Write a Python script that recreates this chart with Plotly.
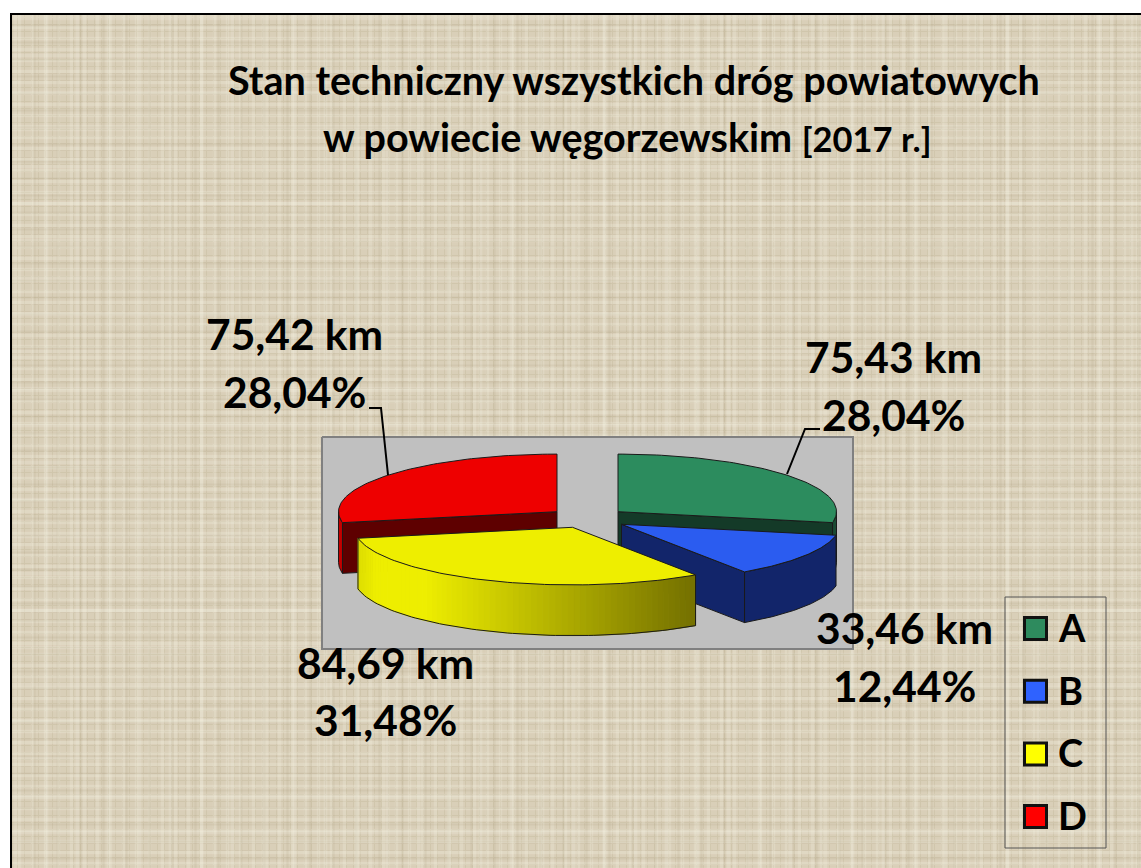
import numpy as np
import plotly.graph_objects as go

# ---- data ----
categories = ["A", "B", "C", "D"]
km_values = [75.43, 33.46, 84.69, 75.42]
pct_values = [28.04, 12.44, 31.48, 28.04]
legend_colors = ["#2e8b5e", "#2f62ff", "#ffff00", "#ff0000"]

# ---- styling ----
top_colors = ["#2c8c5e", "#2b5cf0", "#eeee00", "#ee0000"]
cut_colors = ["#143a28", "#12256a", "#7a7600", "#5e0000"]
rim_colors = ["#1a4a33", "#12256a", None, "#c40000"]
apex_x = [618, 621.5, 572.5, 557]
apex_y = [511.7, 524.3, 527.3, 511.7]
RX, RY, DEPTH = 218.5, 57.6, 50.7
EDGE = "#1a1a1a"
FONT = "Lato"

W, H = 1141, 868
fig = go.Figure()

# burlap-like page background: overlaid weave patterns of different pitch
bx, bw, bh = (12 + W) / 2, W - 12, H - 15
fig.add_bar(x=[bx], y=[bh], base=[15], width=[bw], hoverinfo="skip",
            marker=dict(color="#d9cfb8", line_width=0,
                        pattern=dict(shape="+", bgcolor="#d9cfb8", fgcolor="#c6bba0",
                                     size=7, solidity=0.25)))
weave = [("-", "rgba(245,240,225,0.55)", 11, 0.3), ("|", "rgba(245,240,225,0.45)", 13, 0.25),
         ("-", "rgba(165,152,120,0.30)", 17, 0.12), ("|", "rgba(165,152,120,0.30)", 23, 0.1),
         ("|", "rgba(250,246,235,0.35)", 31, 0.12), ("-", "rgba(250,246,235,0.35)", 37, 0.1)]
for shape, col, size, sol in weave:
    fig.add_bar(x=[bx], y=[bh], base=[15], width=[bw], hoverinfo="skip",
                marker=dict(color="rgba(0,0,0,0)", line_width=0,
                            pattern=dict(shape=shape, bgcolor="rgba(0,0,0,0)", fgcolor=col,
                                         size=size, solidity=sol)))


def poly(xs, ys, fill, line=EDGE, width=1):
    fig.add_scatter(x=list(xs) + [xs[0]], y=list(ys) + [ys[0]], mode="lines", fill="toself",
                    fillcolor=fill, line=dict(color=line, width=width), hoverinfo="skip")


def arc(cx, cy, a0, a1, n=80):
    t = np.radians(np.linspace(a0, a1, n))
    return cx + RX * np.sin(t), cy - RY * np.cos(t)


def rim(cx, cy, a0, a1, fill, line=EDGE):
    x, y = arc(cx, cy, a0, a1)
    poly(np.r_[x, x[::-1]], np.r_[y, y[::-1] + DEPTH], fill, line)


def cut(cx, cy, angle, fill):
    x, y = arc(cx, cy, angle, angle, 1)
    poly([cx, x[0], x[0], cx], [cy, y[0], y[0] + DEPTH, cy + DEPTH], fill)


def top(cx, cy, a0, a1, fill):
    x, y = arc(cx, cy, a0, a1)
    poly(np.r_[cx, x], np.r_[cy, y], fill)


# plot area
poly([322, 853, 853, 322], [437, 437, 649, 649], "#c0c0c0", "#808080", 2)

# slice angles come from the values
total = sum(km_values)
edges = np.cumsum([0] + km_values) / total * 360
A, B, C, D = 0, 1, 2, 3

# back slices: A
cut(apex_x[A], apex_y[A], edges[1], cut_colors[A])
rim(apex_x[A], apex_y[A], 90, edges[1], rim_colors[A])
top(apex_x[A], apex_y[A], edges[0], edges[1], top_colors[A])
# D
cut(apex_x[D], apex_y[D], edges[3], cut_colors[D])
rim(apex_x[D], apex_y[D], edges[3], 270, rim_colors[D])
top(apex_x[D], apex_y[D], edges[3], edges[4], top_colors[D])
# B
cut(apex_x[B], apex_y[B], edges[2], cut_colors[B])
rim(apex_x[B], apex_y[B], edges[1], edges[2], rim_colors[B])
top(apex_x[B], apex_y[B], edges[1], edges[2], top_colors[B])

# C: front rim with a horizontal gradient
cx, cy = apex_x[C], apex_y[C]
steps = np.linspace(edges[2], edges[3], 71)
bright, dark = np.array([238, 238, 0]), np.array([118, 114, 0])
for a0, a1 in zip(steps[:-1], steps[1:]):
    x0 = cx + RX * np.sin(np.radians((a0 + a1) / 2))
    f = np.clip((x0 - 425) / (690 - 425), 0, 1)
    if x0 < 375:
        col = bright * (0.93 + 0.07 * (x0 - 357) / 18)
    else:
        col = bright + (dark - bright) * f
    c = "rgb(%d,%d,%d)" % tuple(col)
    rim(cx, cy, a0, a1, c, c)
xo, yo = arc(cx, cy, edges[2], edges[3])
fig.add_scatter(x=[xo[0], xo[0]], y=[yo[0], yo[0] + DEPTH], mode="lines",
                line=dict(color=EDGE, width=1), hoverinfo="skip")
fig.add_scatter(x=[xo[-1], xo[-1]], y=[yo[-1], yo[-1] + DEPTH], mode="lines",
                line=dict(color=EDGE, width=1), hoverinfo="skip")
fig.add_scatter(x=xo, y=yo + DEPTH, mode="lines",
                line=dict(color=EDGE, width=1), hoverinfo="skip")
top(cx, cy, edges[2], edges[3], top_colors[C])


# leader lines
fig.add_scatter(x=[388, 381, 369], y=[475, 408, 408], mode="lines",
                line=dict(color="black", width=2), hoverinfo="skip")
fig.add_scatter(x=[787, 805, 820], y=[474, 429, 429], mode="lines",
                line=dict(color="black", width=2), hoverinfo="skip")


def fmt(v):
    return f"{v:.2f}".replace(".", ",")


# data labels
label_pos = [(893, 356.5, 414.5), (904, 627.5, 685.5), (385, 662.5, 719.5), (294, 333.5, 391.5)]
for km, pct, (lx, y1, y2) in zip(km_values, pct_values, label_pos):
    for txt, ly in ((f"{fmt(km)} km", y1), (f"{fmt(pct)}%", y2)):
        fig.add_annotation(x=lx, y=ly, text=f"<b>{txt}</b>", showarrow=False,
                           font=dict(family=FONT, size=42.5, color="black"),
                           xanchor="center", yanchor="middle")

# legend
legend_y = [628.5 + 62.7 * i for i in range(4)]
fig.add_scatter(x=[1035.5] * 4, y=legend_y, mode="markers",
                marker=dict(symbol="square", size=22, color=legend_colors,
                            line=dict(color="#111111", width=3)), hoverinfo="skip")
for c, ly in zip(categories, legend_y):
    fig.add_annotation(x=1056, y=ly - 1.5, text=f"<b>{c}</b>", showarrow=False,
                       font=dict(family=FONT, size=38, color="black"),
                       xanchor="left", yanchor="middle")

fig.add_annotation(x=634, y=79, text="<b>Stan techniczny wszystkich dróg powiatowych</b>", showarrow=False,
                   font=dict(family=FONT, size=39.5, color="black"), xanchor="center", yanchor="middle")
fig.add_annotation(x=627, y=136.5,
                   text="<b>w powiecie węgorzewskim <span style='font-size:34.5px'>[2017 r.]</span></b>",
                   showarrow=False, font=dict(family=FONT, size=39.5, color="black"),
                   xanchor="center", yanchor="middle")

fig.update_layout(
    width=W, height=H, margin=dict(l=0, r=0, t=0, b=0), paper_bgcolor="white", plot_bgcolor="white",
    showlegend=False, barmode="overlay", bargap=0,
    xaxis=dict(range=[0, W], visible=False, fixedrange=True),
    yaxis=dict(range=[H, 0], visible=False, fixedrange=True),
    shapes=[
        dict(type="rect", xref="x", yref="y", x0=1005, x1=1106, y0=597, y1=848,
             line=dict(color="#555555", width=1), layer="above"),
        dict(type="line", xref="x", yref="y", x0=10, x1=W, y0=14, y1=14,
             line=dict(color="black", width=2), layer="above"),
        dict(type="line", xref="x", yref="y", x0=11, x1=11, y0=13, y1=H,
             line=dict(color="black", width=2), layer="above"),
    ],
)
fig.write_html("out.html", config=dict(displayModeBar=False),
               post_script="document.body.style.margin='0';document.body.style.overflow='hidden';")
